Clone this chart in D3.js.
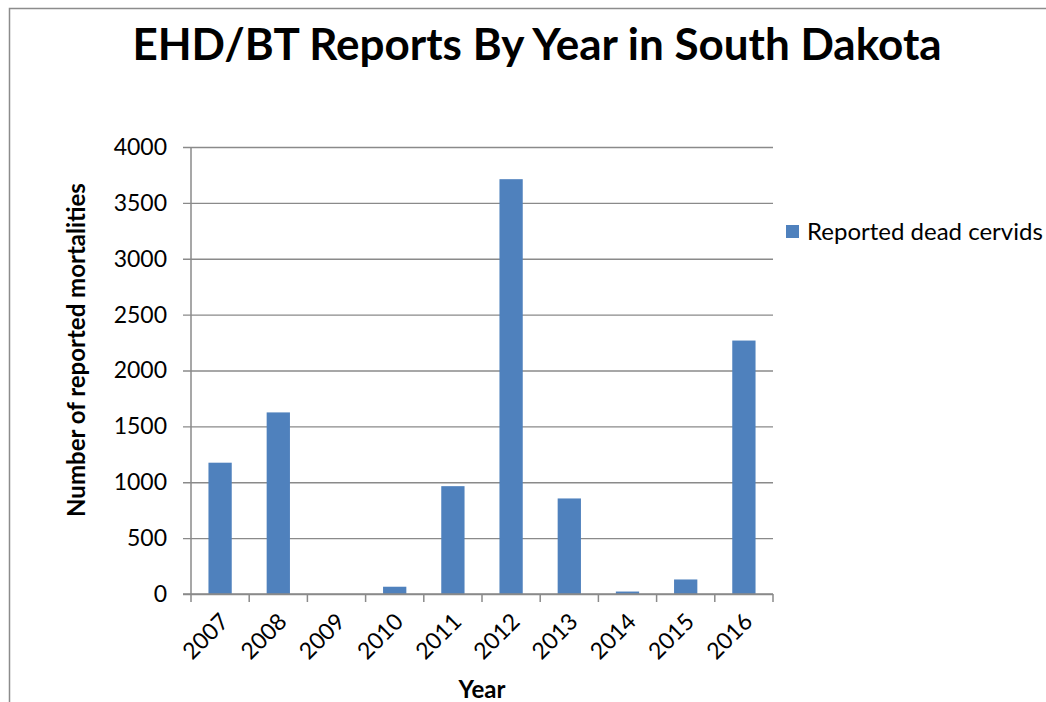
<!DOCTYPE html>
<html><head><meta charset="utf-8">
<script src="https://cdn.jsdelivr.net/npm/d3@7"></script>
<style>body{margin:0;background:#fff}svg{display:block}text{font-family:Lato,"Open Sans",sans-serif}</style>
</head><body>
<svg id="c" width="1046" height="702"></svg>
<script>
const years = ["2007","2008","2009","2010","2011","2012","2013","2014","2015","2016"];
const deadCervids = [1175, 1625, 0, 65, 965, 3712, 855, 22, 130, 2268];
const yTicks = [0, 500, 1000, 1500, 2000, 2500, 3000, 3500, 4000];
const seriesName = "Reported dead cervids";
const titleText = "EHD/BT Reports By Year in South Dakota";

const svg = d3.select("#c");
const m = {left:191, right:773, top:147, bottom:594};
const x = d3.scaleBand().domain(years).range([m.left, m.right]).paddingInner(0.6).paddingOuter(0.3);
const xb = d3.scaleBand().domain(years).range([m.left, m.right]);
const y = d3.scaleLinear().domain([0,4000]).range([m.bottom, m.top]);
const gray = "#8a8a8a";

// outer border
svg.append("rect").attr("x",9.5).attr("y",8.5).attr("width",1100).attr("height",800)
  .attr("fill","none").attr("stroke","#8c8c8c").attr("stroke-width",1.5);

// title
svg.append("text").attr("x",537).attr("y",60).attr("text-anchor","middle")
  .attr("font-size",44).attr("font-weight","bold").attr("fill","#000").text(titleText);

// gridlines + y axis
const yAxis = d3.axisLeft(y).tickValues(yTicks).tickFormat(d3.format("d"))
  .tickSize(-(m.right-m.left)).tickSizeOuter(0);
const gy = svg.append("g").attr("transform",`translate(${m.left},0)`).call(yAxis);
gy.select(".domain").remove();
gy.selectAll(".tick line").attr("stroke",gray).attr("stroke-width",1.3).attr("x1",-8);
gy.selectAll(".tick text").attr("font-size",23).attr("fill","#000").attr("x",-24)
  .style("font-family","Lato, 'Open Sans', sans-serif");

// y axis line
svg.append("line").attr("x1",m.left).attr("x2",m.left).attr("y1",m.top).attr("y2",m.bottom)
  .attr("stroke",gray).attr("stroke-width",1.5);

// bars
svg.append("g").selectAll("rect").data(years).join("rect")
  .attr("x",d=>x(d)).attr("width",x.bandwidth())
  .attr("y",(d,i)=>y(deadCervids[i])).attr("height",(d,i)=>y(0)-y(deadCervids[i]))
  .attr("fill","#4f81bd");

// x axis
svg.append("line").attr("x1",m.left-8).attr("x2",m.right).attr("y1",m.bottom).attr("y2",m.bottom)
  .attr("stroke",gray).attr("stroke-width",1.5);
const bounds = years.map(d=>xb(d)).concat([m.right]);
svg.append("g").selectAll("line").data(bounds).join("line")
  .attr("x1",d=>d).attr("x2",d=>d).attr("y1",m.bottom).attr("y2",m.bottom+8)
  .attr("stroke",gray).attr("stroke-width",1.5);
svg.append("g").selectAll("text").data(years).join("text")
  .attr("transform",d=>`translate(${xb(d)+xb.bandwidth()/2+10},${m.bottom+29}) rotate(-45)`)
  .attr("text-anchor","end").attr("font-size",23).attr("fill","#000").text(d=>d);

// axis titles
svg.append("text").attr("x",482).attr("y",698).attr("text-anchor","middle")
  .attr("font-size",24).attr("font-weight","bold").text("Year");
svg.append("text").attr("transform","translate(85,350) rotate(-90)").attr("text-anchor","middle")
  .attr("font-size",24).attr("font-weight","bold").text("Number of reported mortalities");

// legend
svg.append("rect").attr("x",786).attr("y",225).attr("width",13).attr("height",13).attr("fill","#4f81bd");
svg.append("text").attr("x",807).attr("y",240).attr("font-size",24).attr("fill","#000").text(seriesName);
</script>
</body></html>
